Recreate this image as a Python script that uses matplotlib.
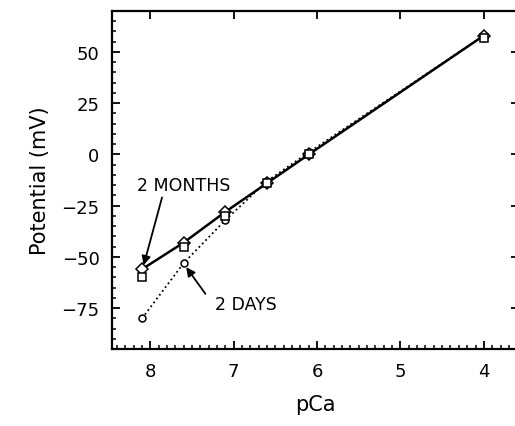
import numpy as np
import matplotlib
matplotlib.use('Agg')
import matplotlib.pyplot as plt
from matplotlib.ticker import MultipleLocator

# pCa values of the calibration solutions
pca = [8.1, 7.6, 7.1, 6.6, 6.1, 4.0]

# electrode potential (mV)
months_diamond = [-56, -43, -28, -14, 0, 58]
months_square = [-60, -45, -30, -14, 0, 57]
days_circle = [-80, -53, -32, -13, 1, 58]

plt.rcParams['font.family'] = 'DejaVu Sans'

fig = plt.figure(figsize=(5.15, 4.27), dpi=100)
ax = fig.add_axes([0.2175, 0.180, 0.79, 0.792])

ax.plot(pca, days_circle, ls=':', lw=1.3, color='black', marker='o', ms=5,
        mfc='white', mec='black', mew=1.1)
ax.plot(pca, months_diamond, ls='-', lw=1.8, color='black', marker='D', ms=6,
        mfc='white', mec='black', mew=1.1)
ax.plot(pca, months_square, ls='none', marker='s', ms=6,
        mfc='white', mec='black', mew=1.1)

# labels with arrows
ax.text(7.6, -15, '2 MONTHS', fontsize=12.5, ha='center', va='center')
ax.annotate('', xy=(8.08, -54), xytext=(7.86, -21),
            arrowprops=dict(arrowstyle='-|>', color='black', lw=1.3,
                            shrinkA=0, shrinkB=0, mutation_scale=13))
ax.text(6.85, -73, '2 DAYS', fontsize=12.5, ha='center', va='center')
ax.annotate('', xy=(7.57, -55), xytext=(7.34, -68),
            arrowprops=dict(arrowstyle='-|>', color='black', lw=1.3,
                            shrinkA=0, shrinkB=0, mutation_scale=13))

ax.set_xlim(8.46, 3.58)
ax.set_ylim(-95, 70)
ax.set_xticks([8, 7, 6, 5, 4])
ax.set_yticks([-75, -50, -25, 0, 25, 50])
ax.xaxis.set_minor_locator(MultipleLocator(0.1))
ax.yaxis.set_minor_locator(MultipleLocator(5))

ax.tick_params(which='major', direction='in', top=True, right=True, width=1.3,
               length=6, pad=9, labelsize=13)
ax.tick_params(which='minor', direction='in', bottom=True, left=True,
               top=False, right=False, width=1.1, length=3)
for s in ax.spines.values():
    s.set_linewidth(1.6)

ax.set_xlabel('pCa', fontsize=15, labelpad=10)
ax.set_ylabel('Potential (mV)', fontsize=15, labelpad=8)

fig.savefig('out.png', dpi=100)
